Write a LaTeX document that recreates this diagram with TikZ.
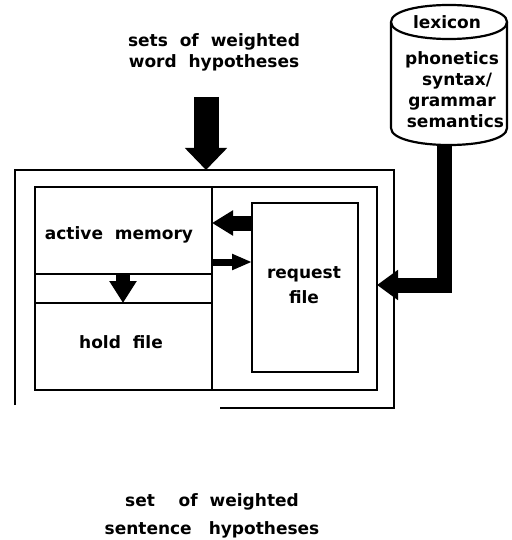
\documentclass[tikz,border=0pt]{standalone}
\usepackage{fontspec}
\setmainfont{DejaVu Sans}
\usetikzlibrary{arrows.meta}
\newcommand\wsp{\hspace{0.7em}}
\begin{document}
\begin{tikzpicture}[x=1pt,y=-1pt,
  lbl/.style={inner sep=0pt, font=\fontsize{17}{21}\selectfont\bfseries, align=center},
  boxline/.style={draw=black, line width=2.2pt},
  blk/.style={draw=black, line width=2.2pt, anchor=north west, inner sep=0pt, outer sep=0pt},
  bigarrow/.style={line width=25pt, -{Triangle[width=41pt,length=22pt]}},
  reqarrow/.style={line width=15pt, -{Triangle[width=24pt,length=21pt]}},
  smallarrow/.style={line width=7pt, -{Triangle[width=15pt,length=20pt]}},
  downarrow/.style={line width=14pt, -{Triangle[width=26pt,length=22pt]}},
  lexarrow/.style={line width=15pt, line join=miter, -{Triangle[width=29pt,length=21pt]}}
]
\useasboundingbox (0,0) rectangle (511,540);

% outer frame (node used for anchors, outline drawn partially as in the original)
\node[anchor=north west, inner sep=0pt, outer sep=0pt, minimum width=379pt, minimum height=238pt] (outer) at (15,170) {};
\draw[boxline] (outer.south west |- 0,405) -- (outer.north west) -- (outer.north east) -- (outer.south east) -- (220,408);

% inner frame and blocks
\node[blk, minimum width=342pt, minimum height=203pt] (inner) at (35,187) {};
\node[blk, minimum width=177pt, minimum height=87pt] (am) at (35,187) {};
\node[blk, minimum width=177pt, minimum height=87pt] (hf) at (35,303) {};
\draw[boxline] (am.south east) -- (hf.north east);
\node[blk, minimum width=106pt, minimum height=169pt] (rf) at (252,203) {};

\node[lbl] (amt) at (119,235) {active\wsp memory};
\node[lbl] (hft) at (121,342) {hold\wsp file};
\node[lbl, font=\fontsize{17}{25}\selectfont\bfseries] (rft) at (304,285) {request\\file};

% lexicon cylinder
\draw[boxline] (391,22) .. controls (391,-0.7) and (507,-0.7) .. (507,22)
  .. controls (507,44.7) and (391,44.7) .. (391,22);
\draw[boxline] (391,22) -- (391,128) .. controls (391,150.7) and (507,150.7) .. (507,128) -- (507,22);
\node[lbl] (lex) at (447,22) {lexicon};
\node[lbl] (lexc) at (452,90) {phonetics\\\hspace{0.6em}syntax/\\grammar\\\hspace{0.4em}semantics};
\coordinate (cylbot) at (444,144);

% input / output texts
\node[lbl] (intxt) at (214,52) {sets\wsp of\wsp weighted\\word\wsp hypotheses};
\node[lbl, font=\fontsize{17}{28}\selectfont\bfseries] (outtxt) at (212,516) {set\hspace{1.4em}of\wsp weighted\\sentence\hspace{1em}hypotheses};

% connectors
\coordinate (instart) at (206,97);
\draw[bigarrow] (instart) -- (instart |- outer.north);
\draw[reqarrow] (rf.west |- 0,223) -- (am.east |- 0,223);
\draw[smallarrow] (am.east |- 0,262) -- (rf.west |- 0,262);
\draw[downarrow] (am.south -| 123,0) -- (hf.north -| 123,0);
\draw[lexarrow] (cylbot) |- (inner.east |- 0,285);
\end{tikzpicture}
\end{document}
